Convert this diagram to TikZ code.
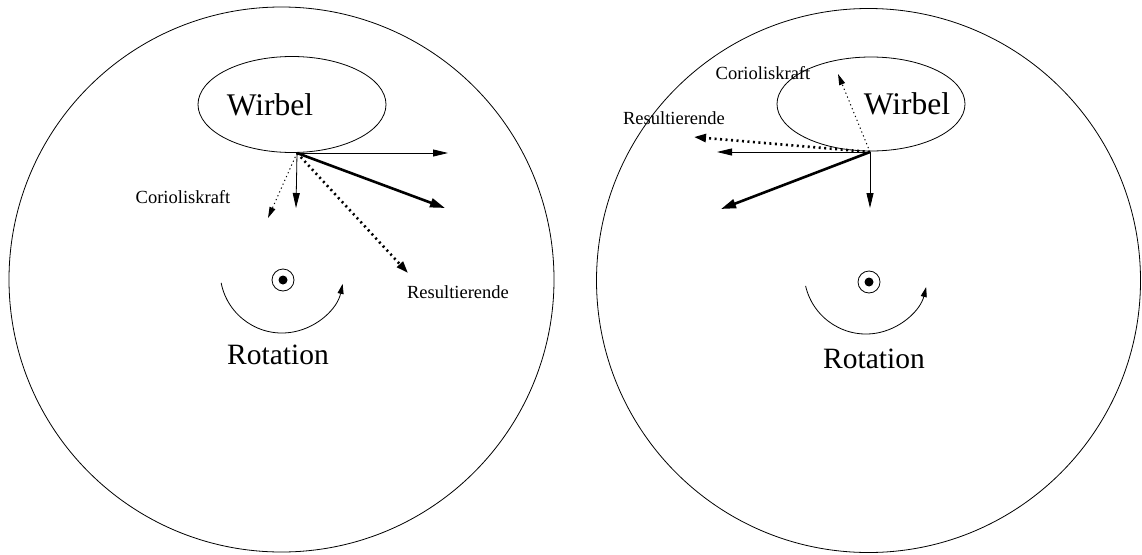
\documentclass[tikz,border=0pt]{standalone}
\usepackage{fontspec}
\setmainfont{Liberation Serif}
\usepackage{tikz}
\usetikzlibrary{arrows.meta,shapes.geometric,calc}

\begin{document}
\begin{tikzpicture}[
    x=1pt, y=-1pt,
    disc/.style={
        draw,
        circle,
        line width=0.8pt,
        inner sep=0pt
    },
    vortex/.style={
        draw,
        ellipse,
        line width=0.8pt,
        minimum width=188pt,
        minimum height=96pt,
        inner sep=0pt
    },
    bigtext/.style={font=\fontsize{29.5}{36}\selectfont, inner sep=0pt},
    vortexlabel/.style={font=\fontsize{31.5}{38}\selectfont, inner sep=0pt},
    smalltext/.style={font=\fontsize{18.5}{22}\selectfont, inner sep=0pt},
    ring/.style={draw, circle, line width=0.8pt, minimum size=22pt, inner sep=0pt},
    dot/.style={fill, circle, minimum size=9pt, inner sep=0pt},
    force/.style={line width=0.8pt, -{Triangle[length=15pt,width=7pt]}},
    resforce/.style={line width=2.6pt, -{Triangle[length=15pt,width=9pt]}},
    coriolis/.style={line width=1pt, dash pattern=on 1.2pt off 3pt,
        -{Triangle[length=11pt,width=6pt]}},
    resultant/.style={line width=2.6pt, dash pattern=on 2pt off 3.5pt,
        -{Triangle[length=12pt,width=8pt]}},
    rotarc/.style={line width=0.8pt, -{Triangle[length=10pt,width=6pt]}}
]
\useasboundingbox (0,0) rectangle (1142,554);

% left disc
\node[disc, minimum size=545pt] (discL) at (281.5,279.5) {};
\node[vortex] (vortL) at (292,104.5) {};
\node[vortexlabel] (wirbL) at (270,105) {Wirbel};

\coordinate (oL) at (297,153);
\coordinate (hL) at (448,153);
\coordinate (dL) at (296,208);
\coordinate (tL) at (445,208);
\coordinate (cL) at (268,218);
\coordinate (rL) at (408,273);

\draw[force] (oL) -- (hL);
\draw[force] (oL) -- (dL);
\draw[resforce] (oL) -- (tL);
\draw[coriolis] (oL) -- (cL);
\draw[resultant] (oL) -- (rL);

\node[smalltext] (corL) at (183,197) {Corioliskraft};
\node[smalltext] (resL) at (458,292) {Resultierende};

% left rotation sign
\node[ring] (ringL) at (283,280) {};
\node[dot] (dotL) at (ringL) {};
\coordinate (arcL) at (282,271);
\draw[rotarc] (arcL) ++(191:62pt) arc[start angle=191, end angle=348, radius=62pt];
\node[bigtext] (rotL) at (278,355) {Rotation};

% right disc
\node[disc, minimum size=544pt] (discR) at (868.5,280.5) {};
\node[vortex, minimum height=94pt] (vortR) at (871,104) {};
\node[vortexlabel] (wirbR) at (907,104) {Wirbel};

\coordinate (oR) at (870,152);
\coordinate (hR) at (717,152);
\coordinate (dR) at (870,208);
\coordinate (tR) at (721,209);
\coordinate (cR) at (838,74);
\coordinate (rR) at (694,137);

\draw[force] (oR) -- (hR);
\draw[force] (oR) -- (dR);
\draw[resforce] (oR) -- (tR);
\draw[coriolis] (oR) -- (cR);
\draw[resultant] (oR) -- (rR);

\node[smalltext] (corR) at (763,73) {Corioliskraft};
\node[smalltext] (resR) at (674,118) {Resultierende};

% right rotation sign
\node[ring] (ringR) at (869,282) {};
\node[dot] (dotR) at (ringR) {};
\coordinate (arcR) at (866,272);
\draw[rotarc] (arcR) ++(193:62pt) arc[start angle=193, end angle=346, radius=62pt];
\node[bigtext] (rotR) at (874,359) {Rotation};

\end{tikzpicture}
\end{document}
